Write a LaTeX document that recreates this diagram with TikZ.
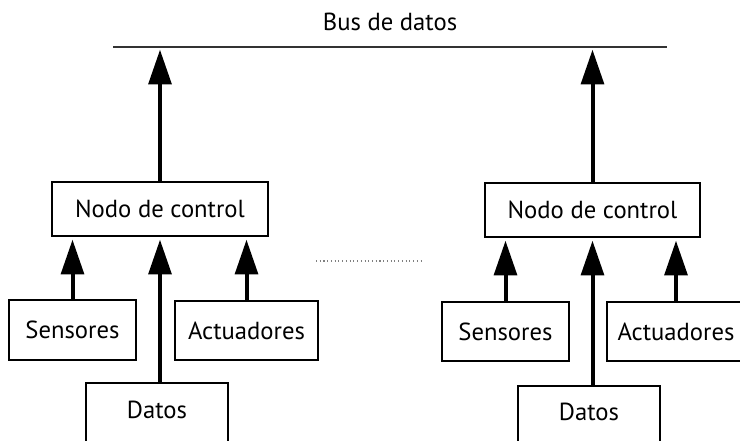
\documentclass[tikz,border=0pt]{standalone}
\usepackage{fontspec}
\setmainfont{PT Sans}
\usepackage{tikz}
\usetikzlibrary{arrows.meta}

\tikzset{
    label font/.style={font=\fontsize{18.5}{22}\selectfont},
    box/.style={draw, line width=1.5pt, inner sep=0pt, label font},
    uparrow/.style={-{Triangle[length=26pt, width=17pt]}, line width=3pt, shorten >=2pt},
}

\begin{document}
\begin{tikzpicture}[x=0.75pt, y=-0.75pt]
            \clip (0,0) rectangle (740,441);

            % Bus de datos
            \coordinate (busW) at (113,47);
            \coordinate (busE) at (667,47);
            \draw [line width=1.5pt, color=black!80] (busW) -- (busE);
            \node (busLabel) at (390,22) [label font] {Bus de datos};

            % Left station
            \node (ctlL) at (160,209) [box, minimum width=162pt, minimum height=40.5pt] {Nodo de control};
            \node (sensL) at (72.5,330) [box, minimum width=95pt, minimum height=45pt] {Sensores};
            \node (actL) at (246.5,330.5) [box, minimum width=107pt, minimum height=44pt] {Actuadores};
            \node (datL) at (157,415) [box, minimum width=106.5pt, minimum height=48pt] {};
            \node (datLabelL) at (157,410) [label font] {Datos};
            \draw [uparrow] (ctlL.north) -- (ctlL |- busW);
            \draw [uparrow] (sensL.north) -- (sensL |- ctlL.south);
            \draw [uparrow] (ctlL |- datL.north) -- (ctlL.south);
            \draw [uparrow] (actL.north) -- (actL |- ctlL.south);

            % Right station
            \node (ctlR) at (592.5,210) [box, minimum width=161pt, minimum height=40.5pt] {Nodo de control};
            \node (sensR) at (505.5,331.5) [box, minimum width=95pt, minimum height=44pt] {Sensores};
            \node (actR) at (676,331.5) [box, minimum width=103pt, minimum height=44pt] {Actuadores};
            \node (datR) at (589,418) [box, minimum width=106.5pt, minimum height=48pt] {};
            \node (datLabelR) at (589,412) [label font] {Datos};
            \draw [uparrow] (ctlR.north) -- (ctlR |- busW);
            \draw [uparrow] (sensR.north) -- (sensR |- ctlR.south);
            \draw [uparrow] (ctlR |- datR.north) -- (ctlR.south);
            \draw [uparrow] (actR.north) -- (actR |- ctlR.south);

            % Dots between stations
            \coordinate (dotW) at (316,261);
            \coordinate (dotE) at (422,261);
            \draw [dotted, color=gray, line width=0.8pt] (dotW) -- (dotE);
\end{tikzpicture}
\end{document}
